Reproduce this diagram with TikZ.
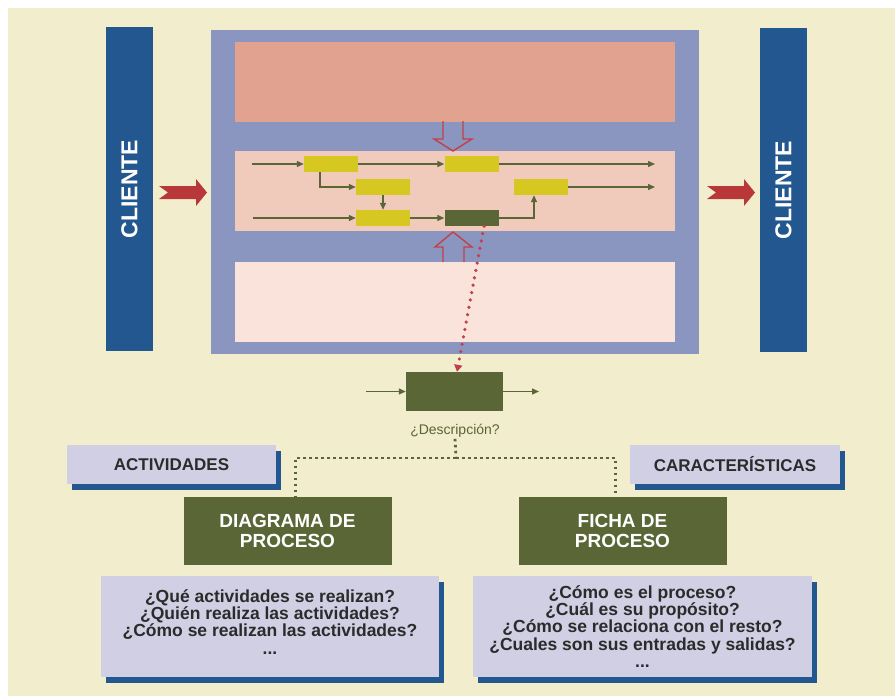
\documentclass[tikz,border=0pt]{standalone}
\usepackage{fontspec}
\setmainfont{Liberation Sans}
\usetikzlibrary{arrows.meta, shadows, calc}

\definecolor{crema}{HTML}{F2EDCD}
\definecolor{azulcli}{HTML}{22578F}
\definecolor{panelgris}{HTML}{8A96C0}
\definecolor{salmon}{HTML}{E2A290}
\definecolor{rosamed}{HTML}{F0CBBC}
\definecolor{rosaclaro}{HTML}{F9E3DA}
\definecolor{rojoflecha}{HTML}{B8383A}
\definecolor{rojolinea}{HTML}{C2404A}
\definecolor{amarillo}{HTML}{D6C821}
\definecolor{oliva}{HTML}{5A6636}
\definecolor{lavanda}{HTML}{D0CFE3}
\definecolor{gristx}{HTML}{2B2B2B}

\begin{document}
\begin{tikzpicture}[x=1pt,y=-1pt,
    bloque/.style={draw=none, inner sep=0pt},
    cliente/.style={bloque, fill=azulcli, rotate=90, minimum width=324pt, minimum height=47pt,
      text=white, font=\bfseries\fontsize{23}{23}\selectfont},
    banda/.style={bloque, minimum width=440pt, minimum height=80pt},
    tarea/.style={bloque, fill=amarillo, minimum width=54pt, minimum height=16pt},
    flujo/.style={draw=oliva, line width=1.3pt, -{Triangle[length=7pt,width=6pt]}},
    sombra/.style={drop shadow={shadow xshift=5pt, shadow yshift=-6pt, fill=azulcli, opacity=1}},
    etiqueta/.style={bloque, sombra, fill=lavanda, text=gristx, minimum height=39pt,
      font=\bfseries\fontsize{17}{17}\selectfont},
    ficha/.style={bloque, fill=oliva, text=white, minimum width=208pt, minimum height=68pt,
      align=center, font=\bfseries\fontsize{19}{19.5}\selectfont},
    preguntas/.style={bloque, sombra, fill=lavanda, text=gristx, minimum height=101pt,
      align=center, font=\bfseries\fontsize{17.5}{17.3}\selectfont},
    hueca/.style={draw=rojolinea, line width=1.4pt, line join=miter},
    puntosrojos/.style={draw=rojolinea, line width=3.6pt, line cap=round, dash pattern=on 0pt off 7.5pt,
      -{Triangle[length=7pt,width=8pt]}},
    puntosverdes/.style={draw=oliva, line width=2.8pt, dash pattern=on 2.6pt off 3.4pt}]

  \useasboundingbox (0,0) rectangle (895,696);
  \fill[white] (0,0) rectangle (895,696);
  \fill[crema] (8,8) rectangle (895,696);

  % clientes y panel del proceso
  \node[cliente] (cliI) at (129.5,189) {CLIENTE};
  \node[cliente] (cliD) at (783.5,190) {CLIENTE};
  \node[bloque, fill=panelgris, minimum width=488pt, minimum height=324pt] (panel) at (455,192) {};
  \node[banda, fill=salmon] (estrat) at (455,81.5) {};
  \node[banda, fill=rosamed] (oper) at (455,191) {};
  \node[banda, fill=rosaclaro] (apoyo) at (455,302) {};

  % flechas rojas de entrada y salida
  \fill[rojoflecha, shift={(159,0)}] (0,186) -- (37,186) -- (37,179) -- (48,192.5) -- (37,206)
    -- (37,199) -- (0,199) -- (9,192.5) -- cycle;
  \fill[rojoflecha, shift={(707,0)}] (0,186) -- (37,186) -- (37,179) -- (48,192.5) -- (37,206)
    -- (37,199) -- (0,199) -- (9,192.5) -- cycle;

  % flechas huecas
  \draw[hueca] (443,121) -- (443,139) -- (434,139) -- (453,151) -- (472,139) -- (463,139) -- (463,121);
  \draw[hueca] (443,262) -- (443,247) -- (435,247) -- (453,232) -- (472,247) -- (464,247) -- (464,262);

  % actividades del proceso
  \node[tarea] (t1) at (331,164) {};
  \node[tarea] (t2) at (471.5,164) {};
  \node[tarea] (t3) at (383,187) {};
  \node[tarea] (t4) at (541,187) {};
  \node[tarea] (t5) at (383,218) {};
  \node[tarea, fill=oliva] (t6) at (471.5,218) {};

  \coordinate (e1) at (252,164);
  \coordinate (e2) at (253,218);
  \coordinate (s1) at (655,164);
  \coordinate (s2) at (655,187);
  \draw[flujo] (e1) -- (t1.west);
  \draw[flujo] (t1.east) -- (t2.west);
  \draw[flujo] (t2.east) -- (s1);
  \draw[flujo] ([xshift=-11]t1.south) |- (t3.west);
  \draw[flujo] (t3.south) -- (t5.north);
  \draw[flujo] (e2) -- (t5.west);
  \draw[flujo] (t5.east) -- (t6.west);
  \draw[flujo] (t6.east) -| ([xshift=-7]t4.south);
  \draw[flujo] (t4.east) -- (s2);

  % detalle de una actividad
  \node[bloque, fill=oliva, minimum width=97pt, minimum height=39pt] (det) at (454.5,391.5) {};
  \coordinate (de) at (366,391.5);
  \coordinate (ds) at (539,391.5);
  \draw[flujo] (de) -- (det.west);
  \draw[flujo] (det.east) -- (ds);
  \draw[puntosrojos] ([xshift=12.5]t6.south) -- ([xshift=2.5]det.north);

  \node[bloque, inner sep=1pt, text=oliva, font=\fontsize{14}{14}\selectfont] (desc) at (455,431) {¿Descripción?};

  % etiquetas y fichas
  \node[etiqueta, minimum width=209pt] (lact) at (171.5,464.5) {ACTIVIDADES};
  \node[etiqueta, minimum width=210pt] (lcar) at (735,464.5) {CARACTERÍSTICAS};
  \node[ficha] (diag) at (287.5,531) {DIAGRAMA DE\\PROCESO};
  \node[ficha] (fich) at (622.5,531) {FICHA DE\\PROCESO};

  \coordinate (j) at (456,458);
  \draw[puntosverdes] (desc.south) -- (j);
  \draw[puntosverdes] (j) -| ([xshift=8]diag.north);
  \draw[puntosverdes] (j) -| ([xshift=-7]fich.north);

  \node[preguntas, minimum width=338pt] (qI) at (270,626.5)
    {¿Qué actividades se realizan?\\¿Quién realiza las actividades?\\¿Cómo se realizan las actividades?\\...\\[-8pt]};
  \node[preguntas, minimum width=339pt] (qD) at (642.5,626.5)
    {¿Cómo es el proceso?\\¿Cuál es su propósito?\\¿Cómo se relaciona con el resto?\\¿Cuales son sus entradas y salidas?\\...};

\end{tikzpicture}
\end{document}
